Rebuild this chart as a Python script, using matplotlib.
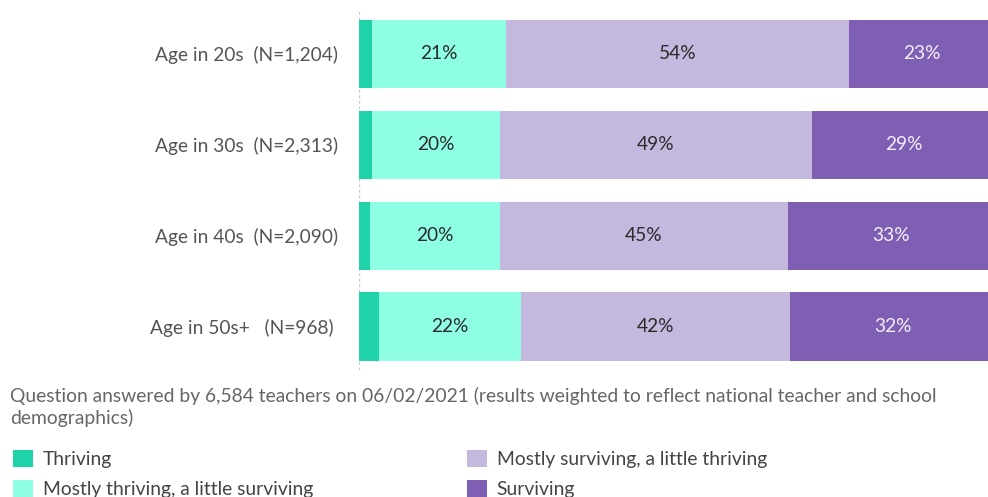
import matplotlib.pyplot as plt
from matplotlib.patches import Patch
import numpy as np

# data (percent of teachers)
groups = ["Age in 20s  (N=1,204)", "Age in 30s  (N=2,313)", "Age in 40s  (N=2,090)", "Age in 50s+   (N=968) "]
series = ["Thriving", "Mostly thriving, a little surviving", "Mostly surviving, a little thriving", "Surviving"]
thriving = [2.0, 2.0, 1.7, 3.1]
mostly_thriving = [21.1, 20.1, 20.4, 22.3]
mostly_surviving = [53.9, 49.1, 45.3, 42.4]
surviving = [23.0, 28.8, 32.6, 32.2]
colors = ["#20d2a8", "#8effe2", "#c5b8de", "#7e5fb4"]
label_colors = [None, "#2b2b2b", "#2b2b2b", "#f2eefa"]
caption = ("Question answered by 6,584 teachers on 06/02/2021 (results weighted to reflect national teacher and school\n"
           "demographics)")

plt.rcParams['font.family'] = ['Lato', 'DejaVu Sans']

fig = plt.figure(figsize=(9.88, 4.97), dpi=100)
ax = fig.add_axes([359/988, 1-370/497, 636/988, 360/497])

y = np.arange(len(groups))
left = np.zeros(len(groups))
for vals, col, lc in zip([thriving, mostly_thriving, mostly_surviving, surviving], colors, label_colors):
    vals = np.array(vals)
    ax.barh(y, vals, left=left, height=0.75, color=col, edgecolor="none")
    if lc is not None:
        for yi, l, v in zip(y, left, vals):
            ax.text(l + v/2, yi, "%d%%" % round(v), ha="center", va="center",
                    fontsize=13.8, color=lc)
    left += vals

ax.set_xlim(0, 100)
ax.set_ylim(3 + 43.5/91, -44/91)
ax.set_yticks(y)
ax.set_yticklabels(groups, fontsize=13.8, color="#555555")
ax.tick_params(axis="y", length=0, pad=15)
ax.set_xticks([])
for s in ax.spines.values():
    s.set_visible(False)
ax.axvline(0, color="#c8c8c8", lw=1, ls=(0, (2, 2)), zorder=0)

fig.text(10/988, 1-387/497, caption, fontsize=13.9, color="#666666", va="top", linespacing=1.28)

handles = [Patch(facecolor=c, edgecolor="none") for c in colors]
fig.legend(handles, series, loc="upper left", bbox_to_anchor=(13/988, 1-450/497), ncol=2,
           frameon=False, fontsize=13.9, labelcolor="#444444", handlelength=1.05, handleheight=1.0,
           handletextpad=0.5, labelspacing=0.6, columnspacing=7.95, borderpad=0, borderaxespad=0)

fig.savefig("out.png", dpi=100)
